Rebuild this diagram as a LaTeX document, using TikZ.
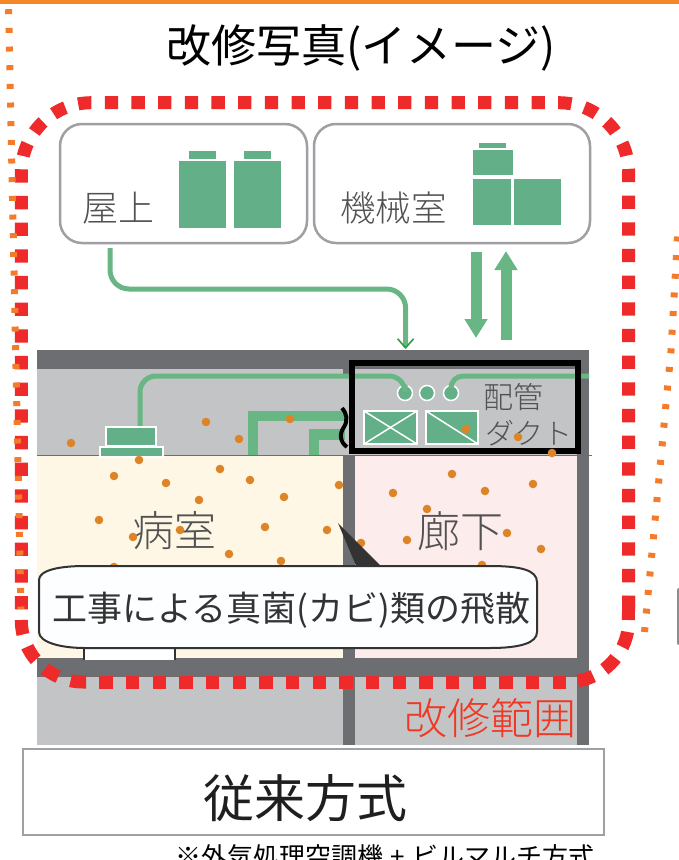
\documentclass[tikz,border=0pt]{standalone}
\usepackage{fontspec}
\usepackage{tikz}
\usetikzlibrary{arrows.meta}

\newfontfamily\jpreg{Noto Sans CJK JP}
\newfontfamily\jpthin{Noto Sans CJK JP Light}

\definecolor{wallgray}{HTML}{6D6E71}
\definecolor{slabgray}{HTML}{C3C4C6}
\definecolor{framegray}{HTML}{A0A0A4}
\definecolor{unitgreen}{HTML}{62AF88}
\definecolor{pipegreen}{HTML}{68B684}
\definecolor{tipgreen}{HTML}{2E9E3E}
\definecolor{sporeorange}{HTML}{DD8526}
\definecolor{lineorange}{HTML}{F47B2A}
\definecolor{zonered}{HTML}{EE2A2A}
\definecolor{roomcream}{HTML}{FFF7E6}
\definecolor{roompink}{HTML}{FDECEC}

\begin{document}
\begin{tikzpicture}[x=1pt,y=-1pt,
  place/.style={draw=framegray,line width=2.5pt,rounded corners=22pt,inner sep=0pt},
  thinlabel/.style={inner sep=0pt,text=black!68,font=\jpthin\fontsize{#1}{#1}\selectfont},
  unit/.style={fill=unitgreen,draw=white,line width=1.5pt},
  pipe/.style={draw=pipegreen,line width=5pt},
  duct/.style={draw=pipegreen,line width=10.5pt},
  bigarrow/.style={draw=pipegreen,line width=11pt,-{Triangle[length=19pt,width=22pt]}},
  valve/.style={circle,fill=unitgreen,draw=white,line width=1.5pt,minimum size=15pt,inner sep=0pt},
  ductbox/.style={draw=white,fill=unitgreen,line width=1.8pt},
  spore/.style={fill=sporeorange},
  zone/.style={draw=zonered,line width=13pt},
  orangedots/.style={draw=lineorange,line width=7pt,dash pattern=on 5pt off 13.67pt}]

\useasboundingbox (0,0) rectangle (679,860);
\clip (0,0) rectangle (679,860);

\fill[lineorange!90!yellow] (0,0) rectangle (679,4);
\node (title) [inner sep=0pt,font=\jpreg\fontsize{45}{45}\selectfont] at (361,48) {改修写真(イメージ)};

% building section
\fill[slabgray] (37,369) rectangle (589,455);
\fill[wallgray] (37,350) rectangle (589,369);
\fill[roomcream] (37,455) rectangle (343,658);
\fill[roompink] (355,455) rectangle (577,658);
\fill[wallgray] (343,455) rectangle (355,658);
\fill[wallgray] (343,369) rectangle (349,374);
\fill[wallgray] (577,369) rectangle (589,658);
\fill[wallgray] (37,658) rectangle (589,677);
\fill[slabgray] (37,677) rectangle (589,745);
\fill[wallgray] (343,677) rectangle (355,745);
\fill[wallgray] (577,677) rectangle (589,745);
\draw[wallgray,line width=1pt] (37,455) -- (592,455);

% roof and machine room
\node (roofbox) [place,minimum width=247pt,minimum height=119pt] at (183.5,183.5) {};
\node (machinebox) [place,minimum width=276pt,minimum height=119pt] at (452,183.5) {};
\node (rooflabel) [thinlabel=36] at (118.5,208) {屋上};
\node (machinelabel) [thinlabel=35.5] at (393.5,208) {機械室};

\fill[unitgreen] (179,161) rectangle (226,228);
\fill[unitgreen] (189,151) rectangle (216,159);
\fill[unitgreen] (234,161) rectangle (281,228);
\fill[unitgreen] (244,151) rectangle (271,159);
\fill[unitgreen] (473,150) rectangle (512.5,175);
\fill[unitgreen] (479,143) rectangle (506,148);
\fill[unitgreen] (473,179) rectangle (511,225);
\fill[unitgreen] (514,179) rectangle (561,225);

% pipes
\coordinate (roofout) at (110,248);
\coordinate (rooftip) at (405.6,349);
\draw[pipe,rounded corners=19pt,-{Straight Barb[color=tipgreen,length=9pt,width=16pt,line width=1.6pt]}] (roofout) -- (110,289) -- (405.6,289) -- (rooftip);

\coordinate (downstart) at (476,252);
\coordinate (downend) at (476,338);
\coordinate (upstart) at (506,340);
\coordinate (upend) at (506,251);
\draw[bigarrow] (downstart) -- (downend);
\draw[bigarrow] (upstart) -- (upend);

\node (valveA) [valve] at (405,393) {};
\node (valveB) [valve] at (427,393) {};
\node (valveC) [valve] at (451,393) {};

\coordinate (wallend) at (589,376);
\coordinate (indoorout) at (140,426);
\draw[pipe,rounded corners=16pt] (indoorout) -- (140,376) -- (405,376) -- (valveA.north);
\draw[pipe,rounded corners=12pt] (valveC.north) -- (451,376) -- (wallend);

\coordinate (ductfootA) at (253,455);
\coordinate (ductendA) at (345,416);
\coordinate (ductfootB) at (314,455);
\coordinate (ductendB) at (345,434.5);
\draw[duct] (ductfootA) -- (253,416) -- (ductendA);
\draw[duct] (ductfootB) -- (314,434.5) -- (ductendB);
\draw[black,line width=4pt] (342,408) .. controls (347,414) and (348,420) .. (344,427) .. controls (339,434) and (340,442) .. (347,447);

\node (indoorup) [unit,minimum width=50pt,minimum height=19pt,inner sep=0pt] at (131,436.5) {};
\node (indoorlow) [unit,minimum width=63pt,minimum height=10pt,inner sep=0pt] at (131.5,452) {};

% ducts in the ceiling
\draw[ductbox] (364,411) rectangle (417,444);
\draw[white,line width=1.5pt] (364,411) -- (417,444);
\draw[white,line width=1.5pt] (364,444) -- (417,411);
\draw[ductbox] (426,411) rectangle (478,444);
\draw[white,line width=1.5pt] (426,411) -- (478,444);

\node (ductframe) [draw=black,line width=6pt,minimum width=226pt,minimum height=88.5pt,inner sep=0pt] at (464.5,407.2) {};
\node (pipelabel) [thinlabel=30] at (513.5,397) {配管};
\node (ductlabel) [thinlabel=29] at (528.5,433) {ダクト};

% rooms
\node (wardlabel) [thinlabel=42] at (174,531) {病室};
\node (corridorlabel) [thinlabel=43] at (460,531) {廊下};

\foreach \px/\py in {71/443,206/422,239/439,290/419,139/460,114/476,166/483,220/469,250/480,
  339/485,284/497,199/500,99/520,133/537,180/530,265/527,327/530,229/554,281/561,114/567,
  466/429,518/437,552/453,452/474,393/493,485/491,533/484,427/509,407/540,507/533,541/549,482/565,361/543}
  \fill[spore] (\px,\py) circle (4.3pt);

% door and speech bubble
\draw[black!80,line width=2pt,fill=white] (84,660) -- (84,646) -- (175,646) -- (175,660);
\fill[black!80] (338,523) -- (357,568) -- (383,568) -- cycle;
\draw[black!80,line width=2pt,fill=white!99!cyan] (39,580) .. controls (39,570) and (60,566) .. (85,566) -- (490,566) .. controls (520,566) and (537,570) .. (537,582) -- (537,632) .. controls (537,643) and (520,648) .. (490,648) -- (85,648) .. controls (60,648) and (39,642) .. (39,632) -- cycle;
\node (bubbletext) [inner sep=0pt,text=black!80,font=\jpreg\fontsize{35}{35}\selectfont] at (291.5,610) {工事による真菌(カビ)類の飛散};

% renovation zone, sides and lower corners drawn apart
\draw[zone,dash pattern=on 13.3pt off 13.37pt,rounded corners=70pt] (21.3,609.3) -- (21.3,102.7) -- (628.7,102.7) -- (628.7,620);
\draw[zone] (628.7,596) -- (628.4,620);
\draw[zone,dash pattern=on 0pt off 12pt on 16pt off 13pt on 16pt off 13pt on 16pt off 100pt,rounded corners=62pt] (628.7,620) -- (628.7,682) -- (566.7,682);
\draw[zone,dash pattern=on 13.3pt off 13.37pt] (566,682) -- (86,682);
\draw[zone,dash pattern=on 15.5pt off 13pt,rounded corners=62pt] (86,682) -- (21.3,682) -- (21.3,620);
\node (zonelabel) [inner sep=0pt,text=zonered!85!orange,font=\jpthin\fontsize{43}{43}\selectfont] at (490,718) {改修範囲};

% orange dotted outline and neighbour panel
\coordinate (leftfrom) at (8.6,9.2);
\coordinate (leftto) at (21,609);
\coordinate (rightfrom) at (677.5,236.5);
\coordinate (rightbend) at (671,351);
\coordinate (rightto) at (644.5,632);
\draw[orangedots] (leftfrom) -- (leftto);
\draw[orangedots] (rightfrom) -- (rightbend) -- (rightto);
\fill[black!45,rounded corners=2pt] (677,588) rectangle (690,645);

% bottom caption
\node (methodbox) [draw=framegray,line width=2.5pt,minimum width=581pt,minimum height=86pt,inner sep=0pt] at (313.5,792) {};
\node (methodlabel) [inner sep=0pt,text=black!88,font=\jpreg\fontsize{51}{51}\selectfont] at (305,798) {従来方式};
\node (footnote) [inner sep=0pt,font=\jpreg\fontsize{26}{26}\selectfont] at (385,857) {※外気処理空調機\hspace{7pt}+\hspace{7pt}ビルマルチ方式};
\end{tikzpicture}
\end{document}
